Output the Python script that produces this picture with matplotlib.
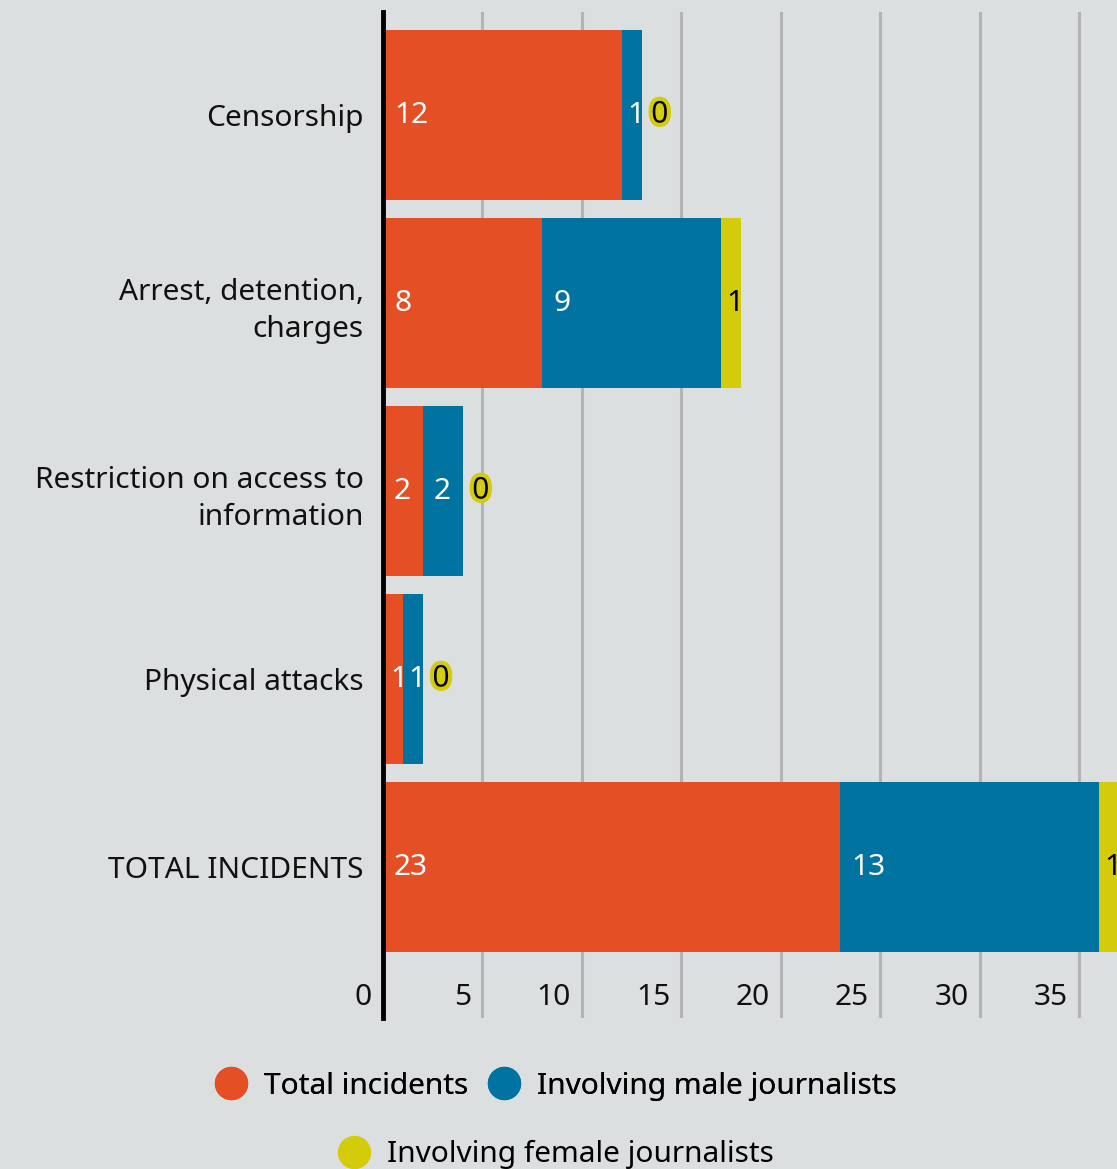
import matplotlib.pyplot as plt
import matplotlib.patheffects as pe
from matplotlib.lines import Line2D
from matplotlib.transforms import blended_transform_factory
import numpy as np

categories = ['Censorship', 'Arrest, detention,\ncharges', 'Restriction on access to\ninformation',
              'Physical attacks', 'TOTAL INCIDENTS']
total = [12, 8, 2, 1, 23]
male = [1, 9, 2, 1, 13]
female = [0, 1, 0, 0, 1]
series_names = ['Total incidents', 'Involving male journalists', 'Involving female journalists']
xticks = [0, 5, 10, 15, 20, 25, 30, 35]

colors = ['#e44f25', '#0073a0', '#d4cb0a']
bg = '#dcdfe0'
plt.rcParams['font.family'] = ['Noto Sans', 'DejaVu Sans']
FS = 21.5

fig = plt.figure(figsize=(11.17, 11.69), dpi=100, facecolor=bg)
ax = fig.add_axes([383 / 1117, (1169 - 1018) / 1169, (1117 - 383) / 1117, 1006 / 1169])
ax.set_facecolor(bg)

y = np.arange(len(categories))
series = [total, male, female]
left = np.zeros(len(categories))
for vals, col in zip(series, colors):
    ax.barh(y, vals, left=left, height=0.905, color=col, zorder=2)
    for yi, v, l in zip(y, vals, left):
        if v == 0:
            # empty segment: value shown after the bar with a yellow halo
            ax.annotate(str(v), (l, yi), xytext=(7, 0), textcoords='offset points',
                        ha='left', va='center', fontsize=FS, color='black', zorder=4,
                        path_effects=[pe.withStroke(linewidth=6, foreground=colors[2])])
        else:
            tc = 'black' if col == colors[2] else 'white'
            if v == 1:
                off = 4 if l > 0 else 5.5
            else:
                off = 8
            ax.annotate(str(v), (l, yi), xytext=(off, 0), textcoords='offset points',
                        ha='left', va='center', fontsize=FS, color=tc, zorder=4)
    left = left + np.array(vals)

ax.set_xlim(0, 734 / 19.886)
ax.set_ylim(4.803, -0.548)

for t in xticks[1:]:
    ax.axvline(t, color='#b1b3b4', lw=2.2, zorder=1)

trans = blended_transform_factory(ax.transData, ax.transAxes)
for t in xticks:
    ax.annotate(str(t), (t, 0.02), xycoords=trans, xytext=(-8, 0), textcoords='offset points',
                ha='right', va='center', fontsize=FS, color='#111111', annotation_clip=False)

for s in ['top', 'right', 'bottom']:
    ax.spines[s].set_visible(False)
ax.spines['left'].set_linewidth(3.5)
ax.spines['left'].set_color('black')
ax.spines['left'].set_zorder(5)
ax.set_xticks([])
ax.set_yticks(y)
ax.set_yticklabels(categories, fontsize=FS, color='#111111', linespacing=1.4)
ax.tick_params(axis='y', length=0, pad=14)
for lab in ax.get_yticklabels():
    lab.set_multialignment('right')

handles = [Line2D([], [], marker='o', ls='', markersize=23, color=c) for c in colors]
leg1 = fig.legend(handles[:2], series_names[:2], loc='center', bbox_to_anchor=(0.497, 0.071),
                  ncol=2, frameon=False, fontsize=FS, handletextpad=0.5, columnspacing=0.6,
                  handlelength=1.2)
fig.add_artist(leg1)
fig.legend(handles[2:], series_names[2:], loc='center', bbox_to_anchor=(0.497, 0.0125),
           frameon=False, fontsize=FS, handletextpad=0.5, handlelength=1.2)

plt.savefig('out.png', dpi=100, facecolor=bg)
